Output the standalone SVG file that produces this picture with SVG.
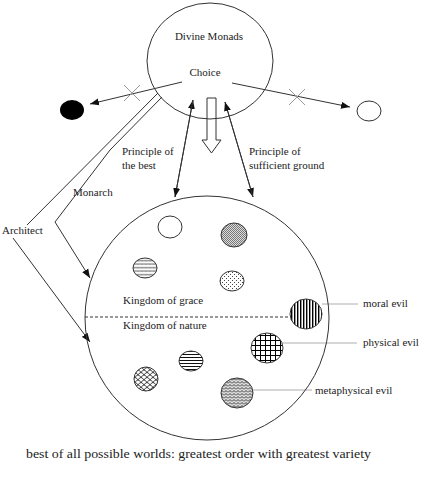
<svg xmlns="http://www.w3.org/2000/svg" width="424" height="478" viewBox="0 0 424 478">
<style>
text{font-family:"Liberation Serif","Times New Roman",serif;font-size:11px;fill:#222}
.ln{stroke:#333;stroke-width:1;fill:none}
.lt{stroke:#999;stroke-width:0.8;fill:none}
.cx{stroke:#999;stroke-width:1;fill:none}
.sm{stroke:#333;stroke-width:1}
</style>
<defs>
<marker id="ah" markerUnits="userSpaceOnUse" markerWidth="10" markerHeight="8" refX="9" refY="4" orient="auto"><path d="M0 0.5L9 4L0 7.5Z" fill="#111"/></marker>
<pattern id="pV" width="3" height="3" patternUnits="userSpaceOnUse"><rect width="3" height="3" fill="#fff"/><rect width="1.4" height="3" fill="#000"/></pattern>
<pattern id="pH" width="3" height="3" patternUnits="userSpaceOnUse"><rect width="3" height="3" fill="#fff"/><rect width="3" height="1" fill="#111"/></pattern>
<pattern id="pG" width="5" height="5" patternUnits="userSpaceOnUse"><rect width="5" height="5" fill="#fff"/><path d="M0 0.5H5M0.5 0V5" stroke="#000" stroke-width="1"/></pattern>
<pattern id="pF" width="2" height="2" patternUnits="userSpaceOnUse"><rect width="2" height="2" fill="#ddd"/><rect width="1" height="1" fill="#777"/><rect x="1" y="1" width="1" height="1" fill="#777"/></pattern>
<pattern id="pD" width="4" height="4" patternUnits="userSpaceOnUse"><rect width="4" height="4" fill="#fff"/><rect width="1" height="1" fill="#444"/><rect x="2" y="2" width="1" height="1" fill="#444"/></pattern>
<pattern id="pW" width="4" height="3.5" patternUnits="userSpaceOnUse"><rect width="4" height="3.5" fill="#fff"/><path d="M0 2.5L1 0.8L2 2.5L3 0.8L4 2.5" stroke="#444" fill="none" stroke-width="0.6"/></pattern>
<pattern id="pZ" width="4" height="3" patternUnits="userSpaceOnUse"><rect width="4" height="3" fill="#ddd"/><path d="M0 2.5L2 0.5L4 2.5" stroke="#111" fill="none" stroke-width="0.8"/></pattern>
<pattern id="pS" width="6" height="5" patternUnits="userSpaceOnUse"><rect width="6" height="5" fill="#fff"/><path d="M0 5Q3 0 6 5M-3 2.5Q0 -2.5 3 2.5M3 2.5Q6 -2.5 9 2.5" stroke="#111" fill="none" stroke-width="0.8"/></pattern>
</defs>

<g id="connectors">
<line class="ln" x1="182" y1="82" x2="90" y2="104" marker-end="url(#ah)"/>
<line class="ln" x1="232" y1="83" x2="350" y2="107" marker-end="url(#ah)"/>
<path class="cx" d="M124 85L140 101M124 101L140 85"/>
<path class="cx" d="M289 89L305 105M289 105L305 89"/>
<line class="ln" x1="175" y1="197" x2="193" y2="100" marker-end="url(#ah)"/>
<line class="ln" x1="193" y1="100" x2="175" y2="197" marker-end="url(#ah)"/>
<line class="ln" x1="225" y1="102" x2="253" y2="197" marker-end="url(#ah)"/>
<line class="ln" x1="253" y1="197" x2="225" y2="102" marker-end="url(#ah)"/>
<path d="M207 98H216V140H221L211.5 153L202 140H207Z" fill="#fff" stroke="#333" stroke-width="1"/>
<line class="ln" x1="158" y1="93" x2="27" y2="225"/>
<polyline class="ln" points="162,97 110,150 55,222"/>
<line class="ln" x1="55" y1="222" x2="90" y2="278" marker-end="url(#ah)"/>
<line class="ln" x1="13" y1="238" x2="90" y2="342" marker-end="url(#ah)"/>
<line x1="85" y1="317" x2="290" y2="317" stroke="#333" stroke-width="1" stroke-dasharray="3,2"/>
<line class="lt" x1="322" y1="304" x2="358" y2="304"/>
<line class="lt" x1="283" y1="343" x2="357" y2="343"/>
<line class="lt" x1="253" y1="390" x2="312" y2="390"/>
</g>

<g id="divine-monads">
<ellipse cx="210" cy="61" rx="63" ry="58" class="ln"/>
<text x="209" y="40" text-anchor="middle">Divine Monads</text>
<text x="205" y="76" text-anchor="middle">Choice</text>
</g>

<g id="rejected-black"><ellipse cx="72" cy="110" rx="12" ry="10" fill="#000"/></g>
<g id="rejected-white"><ellipse cx="369" cy="111" rx="12" ry="10" fill="#fff" class="sm"/></g>

<g id="label-principle-best">
<text x="122" y="155">Principle of</text>
<text x="122" y="169">the best</text>
</g>
<g id="label-principle-sufficient">
<text x="249" y="155">Principle of</text>
<text x="249" y="169">sufficient ground</text>
</g>
<g id="label-monarch"><text x="73" y="196">Monarch</text></g>
<g id="label-architect"><text x="2" y="234">Architect</text></g>

<g id="best-world">
<ellipse cx="207" cy="318" rx="122" ry="122" class="ln"/>
<text x="123" y="304">Kingdom of grace</text>
<text x="123" y="329">Kingdom of nature</text>
</g>

<g id="monad-empty"><ellipse cx="170" cy="227" rx="12" ry="11" fill="#fff" class="sm"/></g>
<g id="monad-fine"><ellipse cx="234" cy="235" rx="13" ry="12" fill="url(#pF)" class="sm"/></g>
<g id="monad-wavy"><ellipse cx="145" cy="268" rx="12" ry="10" fill="url(#pW)" class="sm"/></g>
<g id="monad-dots"><ellipse cx="232" cy="281" rx="12" ry="10" fill="url(#pD)" class="sm"/></g>
<g id="moral-evil">
<ellipse cx="306" cy="314" rx="16" ry="15" fill="url(#pV)" class="sm"/>
<text x="363" y="307">moral evil</text>
</g>
<g id="physical-evil">
<ellipse cx="267" cy="348" rx="16" ry="15" fill="url(#pG)" class="sm"/>
<text x="363" y="346">physical evil</text>
</g>
<g id="monad-hstripes"><ellipse cx="191" cy="361" rx="12" ry="10" fill="url(#pH)" class="sm"/></g>
<g id="monad-scales"><ellipse cx="146" cy="379" rx="12" ry="12" fill="url(#pS)" class="sm"/></g>
<g id="metaphysical-evil">
<ellipse cx="237" cy="393" rx="16" ry="15" fill="url(#pZ)" class="sm"/>
<text x="315" y="394">metaphysical evil</text>
</g>

<g id="caption"><text x="26" y="458" style="font-size:13.5px" textLength="345" lengthAdjust="spacingAndGlyphs">best of all possible worlds: greatest order with greatest variety</text></g>
</svg>
